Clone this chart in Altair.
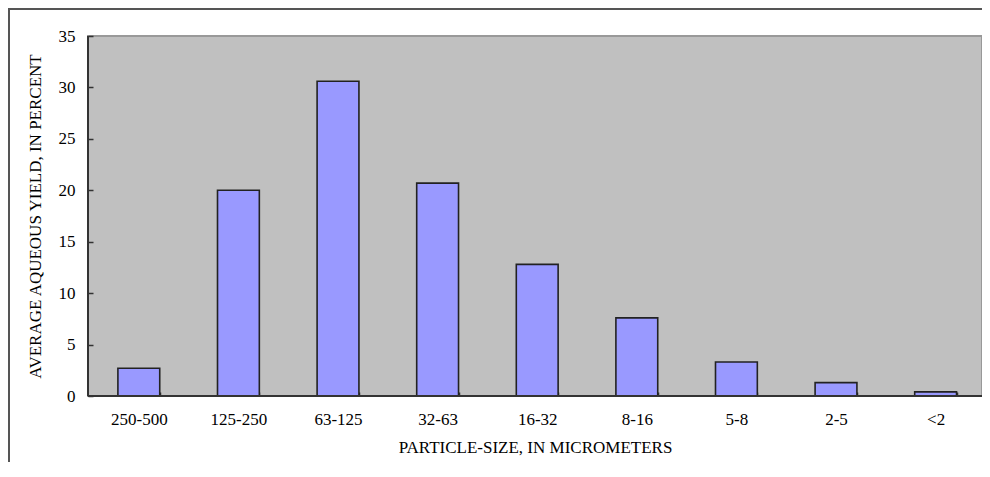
import altair as alt
import pandas as pd

categories = ["250-500", "125-250", "63-125", "32-63", "16-32", "8-16", "5-8", "2-5", "<2"]
values = [2.7, 20.0, 30.6, 20.7, 12.8, 7.6, 3.3, 1.3, 0.4]
y_ticks = [0, 5, 10, 15, 20, 25, 30, 35]

df = pd.DataFrame({"size": categories, "pct": values})
one = pd.DataFrame({"k": [0]})

W, H = 894, 360
PL, PT, PR, PB = 80, 28, 0, 66
FONT = "Liberation Serif"

x_enc = alt.X(
    "size:N",
    sort=categories,
    scale=alt.Scale(paddingInner=0.58, paddingOuter=0.278, align=0.54),
    axis=alt.Axis(
        title="PARTICLE-SIZE, IN MICROMETERS",
        labelAngle=0,
        tickBand="extent",
        offset=-4,
        tickSize=4,
        tickWidth=1.5,
        tickColor="#333333",
        domain=False,
        labelPadding=15,
        titlePadding=12,
        labelFont=FONT,
        titleFont=FONT,
        labelFontSize=17,
        titleFontSize=17,
        titleFontWeight="normal",
        labelColor="black",
        titleColor="black",
    ),
)

y_enc = alt.Y(
    "pct:Q",
    scale=alt.Scale(domain=[0, 35], nice=False, zero=True),
    axis=alt.Axis(
        title="AVERAGE AQUEOUS YIELD, IN PERCENT",
        values=y_ticks,
        offset=-5,
        tickSize=5,
        tickWidth=1.5,
        tickColor="#333333",
        domain=False,
        grid=False,
        labelPadding=13,
        titlePadding=14,
        labelFont=FONT,
        titleFont=FONT,
        labelFontSize=17,
        titleFontSize=17,
        titleFontWeight="normal",
        labelColor="black",
        titleColor="black",
    ),
)

bars = alt.Chart(df).mark_bar(color="#9999FF", stroke="#222222", strokeWidth=1.6).encode(
    x=x_enc, y=y_enc
)

left_axis = alt.Chart(one).mark_rule(color="#333333", strokeWidth=2).encode(
    x=alt.value(0), y=alt.value(0), y2=alt.value(H)
)
bottom_axis = alt.Chart(one).mark_rule(color="#333333", strokeWidth=2).encode(
    x=alt.value(0), x2=alt.value(W), y=alt.value(H)
)
frame_left = alt.Chart(one).mark_rule(color="#555555", strokeWidth=2).encode(
    x=alt.value(-PL + 1), y=alt.value(-PT), y2=alt.value(H + PB)
)
frame_top = alt.Chart(one).mark_rule(color="#555555", strokeWidth=2).encode(
    x=alt.value(-PL), x2=alt.value(W + PR), y=alt.value(-PT + 1)
)

chart = (
    alt.layer(bars, left_axis, bottom_axis, frame_left, frame_top)
    .properties(
        width=W,
        height=H,
        autosize=alt.AutoSizeParams(type="none"),
        padding={"left": PL, "top": PT, "right": PR, "bottom": PB},
        background="white",
    )
    .configure_view(fill="#C0C0C0", stroke="#999999", strokeWidth=2)
)

chart.save("out.html", embed_options={"renderer": "svg", "actions": False})
